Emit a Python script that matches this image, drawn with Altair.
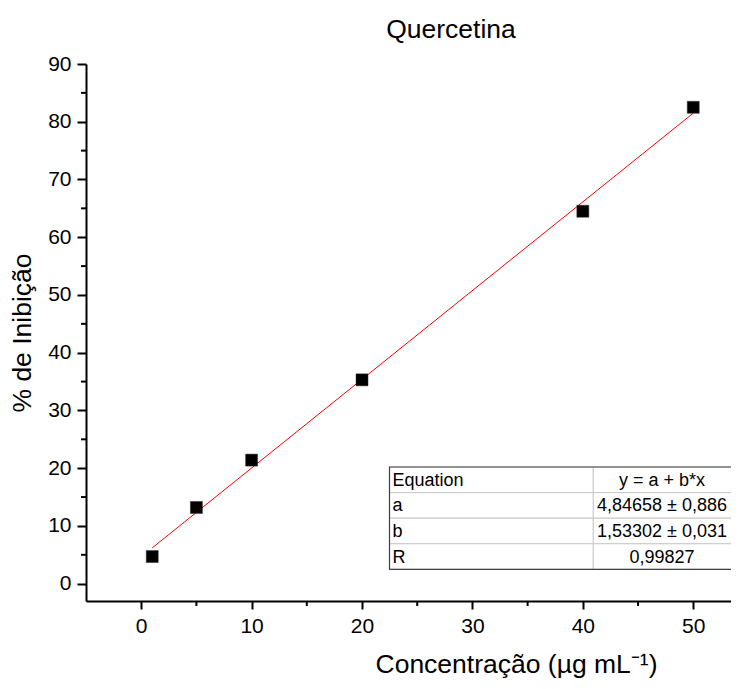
import altair as alt
import pandas as pd

# ---- data ----
conc = [1, 5, 10, 20, 40, 50]
inib = [4.7, 13.2, 21.4, 35.3, 64.5, 82.5]

x_ticks = [0, 10, 20, 30, 40, 50]
x_minor = [5, 15, 25, 35, 45]
y_ticks = [0, 10, 20, 30, 40, 50, 60, 70, 80, 90]
y_minor = [5, 15, 25, 35, 45, 55, 65, 75, 85]

eq_labels = ["Equation", "a", "b", "R"]
eq_values = ["y = a + b*x", "4,84658 ± 0,886", "1,53302 ± 0,031", "0,99827"]

FONT = "Liberation Sans"
W, H = 645, 537

df = pd.DataFrame({"x": conc, "y": inib})
xscale = alt.Scale(domain=[-5, 53.42], nice=False, zero=False)
yscale = alt.Scale(domain=[-3, 90], nice=False, zero=False)

xaxis = alt.Axis(
    values=x_ticks, title="Concentração (µg mL⁻¹)", titleX=430, titlePadding=15,
    titleFontSize=26.5, titleFont=FONT, titleFontWeight="normal", titleColor="black",
    labelFontSize=21, labelFont=FONT, labelColor="black", labelPadding=6,
    tickSize=8, tickWidth=2, tickColor="black", domainColor="black", domainWidth=2,
    grid=False)
yaxis = alt.Axis(
    values=y_ticks, title="% de Inibição", titlePadding=11,
    titleFontSize=26.5, titleFont=FONT, titleFontWeight="normal", titleColor="black",
    labelFontSize=21, labelFont=FONT, labelColor="black", labelPadding=6,
    tickSize=9, tickWidth=2, tickColor="black", domainColor="black", domainWidth=2,
    grid=False)

X = alt.X("x:Q", scale=xscale, axis=xaxis)
Y = alt.Y("y:Q", scale=yscale, axis=yaxis)

base = alt.Chart(df)

pts = base.mark_square(size=144, color="black", opacity=1, stroke="#333333", strokeWidth=0.5).encode(x=X, y=Y)

fit = base.transform_regression("x", "y", extent=[1, 50]).mark_line(
    color="#ff0000", strokeWidth=1).encode(x=X, y=Y)

xm = alt.Chart(pd.DataFrame({"x": x_minor})).mark_rule(color="black", strokeWidth=2).encode(
    x=X, y=alt.value(H), y2=alt.value(H + 5))
ym = alt.Chart(pd.DataFrame({"y": y_minor})).mark_rule(color="black", strokeWidth=2).encode(
    y=Y, x=alt.value(0), x2=alt.value(-5))

# ---- table (equation box), laid out row by row ----
L, M, R = 303.5, 507.3, W + 2
TOP, ROWH = 403.0, 25.6
tlayers = []
for i, (lab, val) in enumerate(zip(eq_labels, eq_values)):
    y0 = TOP + i * ROWH
    rdf = alt.Chart(pd.DataFrame({"label": [lab], "value": [val]}))
    tlayers.append(rdf.mark_rect(fill="white", stroke="#c8c8c8", strokeWidth=1).encode(
        x=alt.value(L), x2=alt.value(M), y=alt.value(y0), y2=alt.value(y0 + ROWH)))
    tlayers.append(rdf.mark_rect(fill="white", stroke="#c8c8c8", strokeWidth=1).encode(
        x=alt.value(M), x2=alt.value(R), y=alt.value(y0), y2=alt.value(y0 + ROWH)))
    tlayers.append(rdf.mark_text(align="left", baseline="middle", font=FONT, fontSize=18,
                                 color="black").encode(
        x=alt.value(L + 3), y=alt.value(y0 + ROWH / 2 + 1), text="label:N"))
    tlayers.append(rdf.mark_text(align="center", baseline="middle", font=FONT, fontSize=18,
                                 color="black").encode(
        x=alt.value(576), y=alt.value(y0 + ROWH / 2 + 1), text="value:N"))
border = alt.Chart(pd.DataFrame({"a": [0]})).mark_rect(fill=None, stroke="#404040", strokeWidth=1.2).encode(
    x=alt.value(L), x2=alt.value(R), y=alt.value(TOP), y2=alt.value(TOP + 4 * ROWH))

chart = alt.layer(fit, pts, xm, ym, *tlayers, border).properties(
    width=W, height=H,
    title=alt.TitleParams("Quercetina", font=FONT, fontSize=26.5, fontWeight="normal", color="black",
                          anchor="middle", dx=42.5, offset=10),
    autosize="none",
    padding={"left": 78, "top": 56, "right": 0, "bottom": 80},
).configure(background="white").configure_view(stroke=None)

chart.save("out.html", embed_options={"renderer": "svg", "actions": False})
